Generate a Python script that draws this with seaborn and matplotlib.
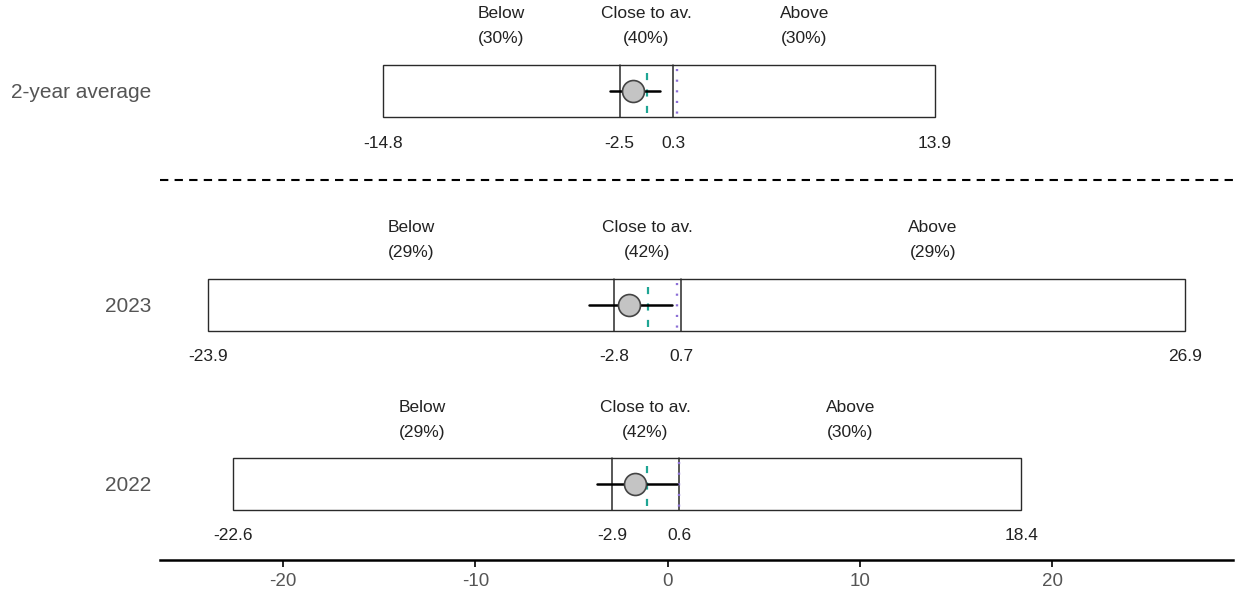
import numpy as np
import pandas as pd
import seaborn as sns
import matplotlib.pyplot as plt
from matplotlib.patches import Rectangle

# data
rows = ["2-year average", "2023", "2022"]
low_end = [-14.8, -23.9, -22.6]
cut_low = [-2.5, -2.8, -2.9]
cut_high = [0.3, 0.7, 0.6]
high_end = [13.9, 26.9, 18.4]
pct_below = ["30%", "29%", "29%"]
pct_close = ["40%", "42%", "42%"]
pct_above = ["30%", "29%", "30%"]
point_est = [-1.8, -2.0, -1.7]
ci_low = [-3.0, -4.1, -3.7]
ci_high = [-0.4, 0.2, 0.5]
teal_line = [-1.1, -1.0, -1.1]
purple_line = [0.5, 0.5, 0.6]
xticks = [-20, -10, 0, 10, 20]

# layout (y in units of 100 px from the top)
row_y = [0.91, 3.05, 4.84]
box_h = 0.52
sep_y = 1.80

sns.set_style("white")
plt.rcParams['font.family'] = ['Liberation Sans', 'DejaVu Sans']

fig = plt.figure(figsize=(12.36, 5.91), dpi=100)
ax = fig.add_axes([160 / 1236, 31 / 591, (1233 - 160) / 1236, 560 / 591])

df = pd.DataFrame({"row": rows, "est": point_est, "y": row_y})

for i, r in enumerate(rows):
    y = row_y[i]
    ax.add_patch(Rectangle((low_end[i], y - box_h / 2), high_end[i] - low_end[i], box_h,
                           fill=False, edgecolor="#2a2a2a", lw=1.0, zorder=1))
    for c in (cut_low[i], cut_high[i]):
        ax.plot([c, c], [y - box_h / 2, y + box_h / 2], color="#2a2a2a", lw=1.1, zorder=2)
    ax.plot([teal_line[i]] * 2, [y - box_h / 2 + 0.08, y + box_h / 2],
            color="#1fa594", lw=1.6, ls=(0, (3.2, 4.2)), zorder=2)
    ax.plot([purple_line[i]] * 2, [y - box_h / 2 + 0.04, y + box_h / 2],
            color="#8c6fd6", lw=1.7, ls=(0, (0.9, 3.6)), zorder=2)
    ax.plot([ci_low[i], ci_high[i]], [y, y], color="black", lw=1.8, zorder=3)

    # labels above
    mids = [(low_end[i] + cut_low[i]) / 2, (cut_low[i] + cut_high[i]) / 2,
            (cut_high[i] + high_end[i]) / 2]
    for m, name, p in zip(mids, ["Below", "Close to av.", "Above"],
                          [pct_below[i], pct_close[i], pct_above[i]]):
        ax.text(m, y - box_h / 2 - 0.51, name, ha="center", va="center", fontsize=12.5, color="#222222")
        ax.text(m, y - box_h / 2 - 0.26, "(" + p + ")", ha="center", va="center", fontsize=12.5, color="#222222")

    # numbers below
    for v in [low_end[i], cut_low[i], cut_high[i], high_end[i]]:
        ax.text(v, y + box_h / 2 + 0.26, f"{v:.1f}", ha="center", va="center", fontsize=12.5, color="#222222")

    ax.text(-0.008, y + 0.02, r, transform=ax.get_yaxis_transform(), ha="right", va="center",
            fontsize=15, color="#555555")

sns.scatterplot(data=df, x="est", y="y", ax=ax, s=250, color="#c4c4c4",
                edgecolor="#444444", linewidth=1.2, zorder=4, legend=False)

ax.axhline(sep_y, color="black", lw=1.5, ls=(0, (4, 3)))

ax.set_xlim(-26.4, 29.4)
ax.set_ylim(5.60, 0)
ax.set_xticks(xticks)
ax.set_xticklabels([str(t) for t in xticks], fontsize=13.5, color="#555555")
ax.set_yticks([])
ax.set_xlabel("")
ax.set_ylabel("")
for s in ["top", "right", "left"]:
    ax.spines[s].set_visible(False)
ax.spines["bottom"].set_linewidth(1.8)
ax.spines["bottom"].set_color("black")
ax.tick_params(axis="x", bottom=True, length=5, width=1.2, color="black", pad=4)

fig.savefig("out.png", dpi=100)
